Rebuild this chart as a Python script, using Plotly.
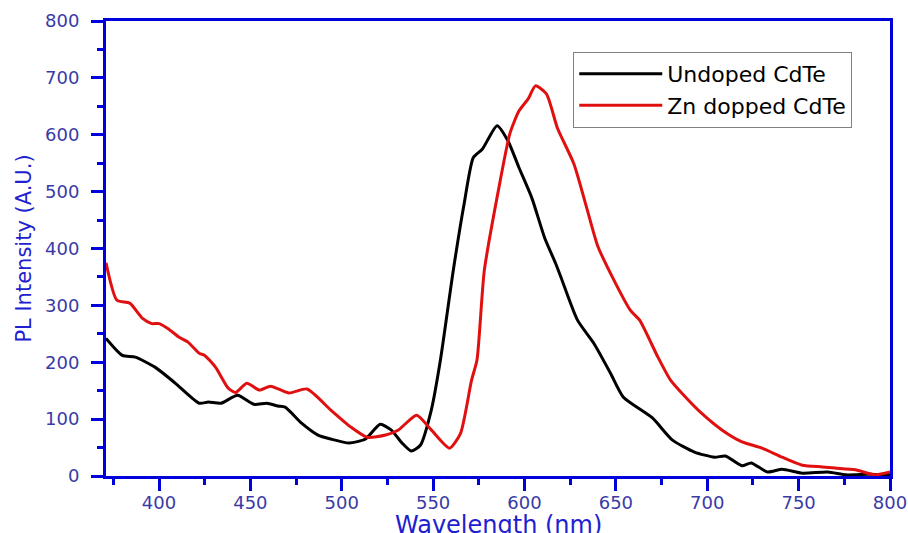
import plotly.graph_objects as go

# Undoped CdTe
undoped_x = [371, 380, 387, 398, 409, 422, 427, 434, 443, 452, 459, 465, 469, 478, 487, 494, 504, 513,
             521, 527, 533, 538, 543, 549, 554, 561, 567, 572, 577, 585, 591, 597, 604, 611, 617, 620,
             629, 638, 647, 654, 670, 681, 693, 704, 710, 719, 724, 733, 741, 752, 766, 776, 788, 800]
undoped_y = [242, 212, 209, 191, 163, 128, 130, 128, 142, 126, 128, 123, 121, 93, 72, 65, 58, 65,
             91, 81, 58, 44, 54, 116, 204, 361, 479, 560, 575, 616, 589, 542, 489, 419, 374, 349,
             274, 233, 181, 139, 102, 63, 42, 33, 35, 18, 23, 7, 12, 5, 7, 2, 3, 2]

# Zn dopped CdTe
zn_x = [371, 377, 384, 391, 396, 400, 405, 411, 416, 422, 425, 431, 438, 442, 448, 455, 461, 471,
        481, 494, 505, 514, 524, 531, 541, 549, 559, 565, 571, 574, 578, 586, 592, 597, 602, 606,
        612, 618, 627, 634, 640, 649, 658, 663, 673, 680, 686, 697, 708, 719, 730, 741, 752, 763,
        770, 781, 792, 800]
zn_y = [375, 309, 304, 277, 268, 268, 259, 244, 235, 216, 212, 191, 154, 147, 163, 151, 158, 146,
        153, 116, 86, 68, 72, 81, 107, 81, 49, 75, 168, 204, 361, 507, 602, 642, 663, 686,
        672, 612, 549, 472, 405, 344, 291, 274, 209, 168, 146, 110, 81, 60, 49, 33, 19, 16,
        14, 11, 2, 7]

x_ticks = [400, 450, 500, 550, 600, 650, 700, 750, 800]
y_ticks = [0, 100, 200, 300, 400, 500, 600, 700, 800]

FONT = "DejaVu Sans, Arial, sans-serif"
AXIS_BLUE = "#0000dd"
TICK_COLOR = "#3a3aa6"
TITLE_COLOR = "#2020d0"

fig = go.Figure()
fig.add_trace(go.Scatter(x=undoped_x, y=undoped_y, mode="lines", name="Undoped CdTe",
                         line=dict(color="black", width=3, shape="spline", smoothing=0.6)))
fig.add_trace(go.Scatter(x=zn_x, y=zn_y, mode="lines", name="Zn dopped CdTe",
                         line=dict(color="#e01010", width=3, shape="spline", smoothing=0.6)))

fig.update_layout(
    width=908, height=533,
    margin=dict(l=106, r=18, t=21, b=57),
    paper_bgcolor="white", plot_bgcolor="white",
    font=dict(family=FONT),
    showlegend=True,
    legend=dict(x=0.596, y=0.932, xanchor="left", yanchor="top",
                bgcolor="white", bordercolor="#808080", borderwidth=1,
                font=dict(size=22, color="black", family=FONT),
                tracegroupgap=0, itemwidth=83),
    annotations=[dict(text="Wavelength (nm)", xref="paper", yref="paper", x=0.5, y=0,
                      xanchor="center", yanchor="top", yshift=-33, showarrow=False,
                      font=dict(size=24, color=TITLE_COLOR, family=FONT))],
)

fig.update_xaxes(
    range=[371, 800], tickvals=x_ticks, ticks="outside", ticklen=12, tickwidth=3,
    tickcolor=AXIS_BLUE, showline=True, linecolor=AXIS_BLUE, linewidth=3, mirror=True,
    showgrid=False, zeroline=False, automargin=False, ticklabelstandoff=-4,
    tickfont=dict(size=18, color=TICK_COLOR, family=FONT),
    minor=dict(dtick=25, tick0=375, ticks="outside", ticklen=6, tickwidth=3, tickcolor=AXIS_BLUE),
)
fig.update_yaxes(
    range=[0, 800], tickvals=y_ticks, ticks="outside", ticklen=12, tickwidth=3,
    tickcolor=AXIS_BLUE, showline=True, linecolor=AXIS_BLUE, linewidth=3, mirror=True,
    showgrid=False, zeroline=False, automargin=False, ticklabelstandoff=8,
    tickfont=dict(size=18, color=TICK_COLOR, family=FONT),
    minor=dict(dtick=50, ticks="outside", ticklen=6, tickwidth=3, tickcolor=AXIS_BLUE),
    title=dict(text="PL Intensity (A.U.)", font=dict(size=21, color=TITLE_COLOR, family=FONT), standoff=8),
)

fig.write_html("out.html")
